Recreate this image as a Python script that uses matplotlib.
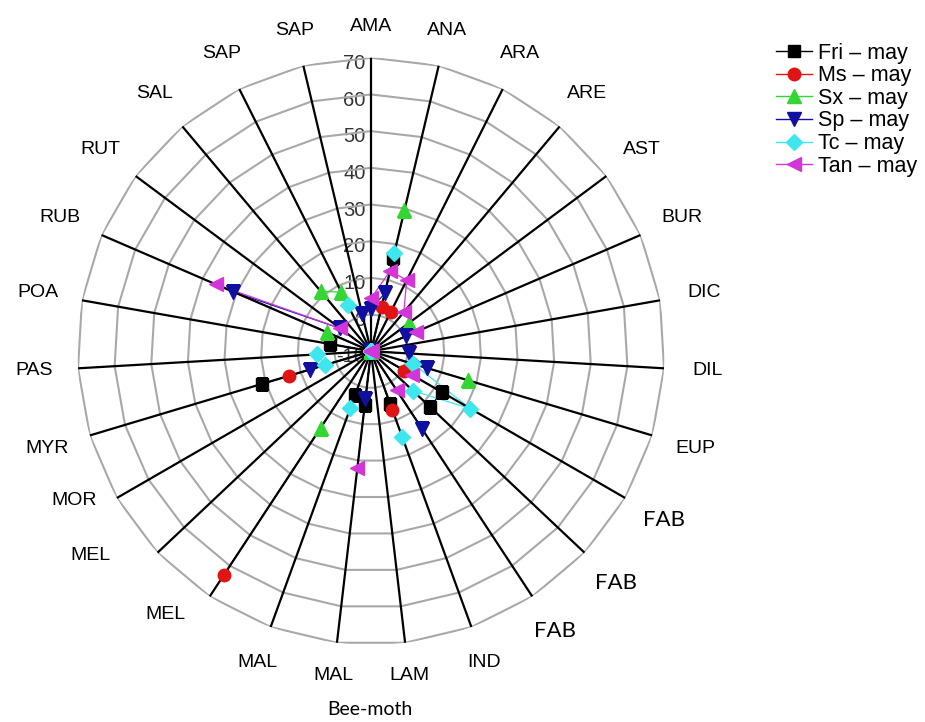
import numpy as np
import matplotlib.pyplot as plt
from matplotlib.lines import Line2D

plt.rcParams['font.family'] = ['Liberation Sans', 'DejaVu Sans']

categories = ['AMA', 'ANA', 'ARA', 'ARE', 'AST', 'BUR', 'DIC', 'DIL', 'EUP',
              'FAB', 'FAB', 'FAB', 'IND', 'LAM', 'MAL', 'MAL', 'MEL', 'MEL',
              'MOR', 'MYR', 'PAS', 'POA', 'RUB', 'RUT', 'SAL', 'SAP', 'SAP']

# empty cells sit at the axis minimum (-10), i.e. the centre
fri = [-10, 16, -10, -10, -10, -10, -10, -10, -10, 12.4, 12, -10, 5.3, -10,
       4.8, 2.8, -10, -10, -10, 21, -10, 1.3, -10, -10, -10, -10, -10]
ms = [-10, 2.5, 2, -10, -10, -10, -10, -10, -10, 0.5, -10, -10, 7, -10,
      -10, -10, 63, -10, -10, 13.3, -10, -10, -10, -10, -10, -10, -10]
sx = [-10, 29.5, -10, -10, 3, -10, -10, -10, 17.7, -10, -10, -10, -10, -10,
      -10, -10, 15, -10, -10, -10, -10, -10, 3, -10, 11.4, 8, -10]
sp = [1.6, 6.2, -10, -10, -10, 0.5, -10, 0.5, 5.8, -10, -10, 15.4, -10, -10,
      3, -10, -10, -10, -10, 7.4, -10, -10, 31, 0.4, -10, -10, 0.5]
tc = [-10, 17.6, -10, -10, -10, -10, -10, -10, 2, 21.3, 5.7, -10, 14.9, -10,
      -10, 6.6, -10, -10, -10, 3, 4.8, -10, -10, -10, -10, 4, -10]
tan = [4.4, 12.5, 11.7, 3.9, -10, 3.5, -10, -10, -10, 3, -10, 2.7, -10, -10,
       22, -10, -10, -10, -10, -10, -10, -10, 36, 0.5, -10, -10, -10]

series = [
    ('Fri – may', fri, '#000000', 's', 8),
    ('Ms – may', ms, '#e01414', 'o', 9),
    ('Sx – may', sx, '#33d633', '^', 10),
    ('Sp – may', sp, '#0f0fa0', 'v', 10),
    ('Tc – may', tc, '#3ee6ee', 'D', 8),
    ('Tan – may', tan, '#d236d8', '<', 10),
]

rmin, rmax = -10, 70
n = len(categories)
theta = np.arange(n) * 2 * np.pi / n
closed = np.append(theta, theta[0])

# a few labels were moved by hand (pixel nudges, x right / y down)
nudge = {16: (-22, -16), 17: (-35, -27), 18: (-4, -20)}

fig = plt.figure(figsize=(9.25, 7.22), dpi=100)
ax = fig.add_axes([0.0838, 0.107, 0.6346, 0.813], projection='polar')
ax.set_theta_zero_location('N')
ax.set_theta_direction(-1)
ax.grid(False)
ax.spines['polar'].set_visible(False)

# polygon rings and black spokes
for v in range(0, rmax + 1, 10):
    ax.plot(closed, [v] * (n + 1), color='#a8a8a8', lw=1.5, zorder=1)
for t in theta:
    ax.plot([t, t], [rmin, rmax], color='black', lw=1.6, zorder=2)

# radial tick labels along the first spoke
for v in range(rmin, rmax + 1, 10):
    ax.annotate(str(v), xy=(0, v), xytext=(-4, -4), textcoords='offset points',
                ha='right', va='center', fontsize=14.5, color='#333333',
                zorder=0.5)

handles = []
for name, vals, col, mk, ms_ in series:
    r = np.append(vals, vals[0])
    ax.plot(closed, r, color=col, lw=0.9, zorder=1.5)
    ax.plot(theta, vals, ls='none', marker=mk, ms=ms_, color=col,
            markeredgecolor=col, zorder=3)
    handles.append(Line2D([], [], color=col, lw=1.0, marker=mk, ms=ms_,
                          markeredgecolor=col, label=name))

# category labels: box edge kept a fixed gap outside the outer ring
px = 72 / fig.dpi
for i, (t, lab) in enumerate(zip(theta, categories)):
    s, c = np.sin(t), np.cos(t)
    d = (15 * abs(s) + 6 * abs(c))  # points
    nx, ny = nudge.get(i, (0, 0))
    kw = dict(fontsize=14)
    if lab == 'FAB':
        kw = dict(fontsize=16, family=['Lato', 'DejaVu Sans'])
    ax.annotate(lab, xy=(t, 76.2), xytext=(d * s + nx * px, d * c - ny * px),
                textcoords='offset points', ha='center', va='center',
                annotation_clip=False, **kw)

ax.set_xticks([])
ax.set_yticks([])
ax.set_ylim(rmin, rmax)

fig.text(0.4, 0.017, 'Bee-moth', ha='center', va='center', fontsize=14,
         family=['Lato', 'DejaVu Sans'])

fig.legend(handles=handles, loc='upper left', bbox_to_anchor=(0.839, 0.941),
           frameon=False, fontsize=15.5, handlelength=1.67, handletextpad=0.28,
           labelspacing=0.075, borderpad=0, borderaxespad=0)

fig.savefig('out.png', dpi=100)
